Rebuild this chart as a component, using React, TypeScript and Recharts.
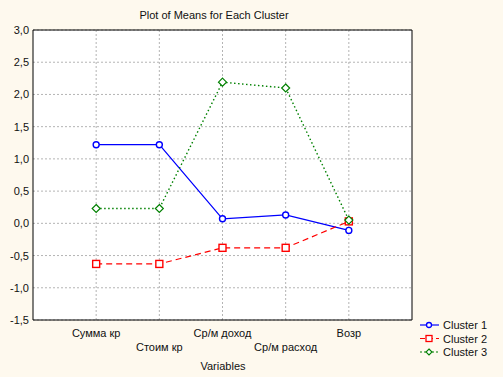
import { CartesianGrid, Line, LineChart, XAxis, YAxis } from 'recharts'

const categories = ['Сумма кр', 'Стоим кр', 'Ср/м доход', 'Ср/м расход', 'Возр']
const cluster1 = [1.22, 1.22, 0.07, 0.13, -0.11]
const cluster2 = [-0.63, -0.63, -0.38, -0.38, 0.03]
const cluster3 = [0.23, 0.23, 2.19, 2.1, 0.05]
const seriesNames = ['Cluster 1', 'Cluster 2', 'Cluster 3']
const yTicks = [-1.5, -1, -0.5, 0, 0.5, 1, 1.5, 2, 2.5, 3]

const data = categories.map((name, i) => ({
  x: i + 1,
  name,
  c1: cluster1[i],
  c2: cluster2[i],
  c3: cluster3[i],
}))

// minor tick positions along the frame
const xMinor = Array.from({ length: 25 }, (_, i) => i * 0.25)
const yMinor = Array.from({ length: 46 }, (_, i) => Math.round((-1.5 + i * 0.1) * 10) / 10)

const FONT = '"Liberation Sans", Arial, sans-serif'
const BLUE = '#0000ff'
const RED = '#ff0000'
const GREEN = '#008000'

const CircleDot = (p: any) => {
  if (p.cx == null || p.cy == null) return null
  return <circle cx={p.cx} cy={p.cy} r={3} fill="#fff" stroke={BLUE} strokeWidth={1.4} />
}
const SquareDot = (p: any) => {
  if (p.cx == null || p.cy == null) return null
  return (
    <rect x={p.cx - 3.5} y={p.cy - 3.5} width={7} height={7} fill="#fff" stroke={RED} strokeWidth={1.4} />
  )
}
const DiamondDot = (p: any) => {
  if (p.cx == null || p.cy == null) return null
  const { cx, cy } = p
  return (
    <path
      d={`M${cx},${cy - 4}L${cx + 4},${cy}L${cx},${cy + 4}L${cx - 4},${cy}Z`}
      fill="#fff"
      stroke={GREEN}
      strokeWidth={1.2}
    />
  )
}

const XTick = (p: any) => {
  const i = p.index ?? 0
  const y = i % 2 === 0 ? 337 : 350.5
  return (
    <text x={p.x} y={y} textAnchor="middle" fontSize={11} fontFamily={FONT} fill="#111">
      {categories[i]}
    </text>
  )
}

const YTick = (p: any) => (
  <text x={29} y={p.y + 4} textAnchor="end" fontSize={11} fontFamily={FONT} fill="#111">
    {Number(p.payload.value).toFixed(1).replace('.', ',')}
  </text>
)

const legendRows = [
  { name: seriesNames[0], color: BLUE, dash: undefined, mark: 'circle' },
  { name: seriesNames[1], color: RED, dash: '5 3', mark: 'square' },
  { name: seriesNames[2], color: GREEN, dash: '2 2', mark: 'diamond' },
]

export default function App() {
  return (
    <div
      style={{
        position: 'absolute',
        left: 0,
        top: 0,
        width: 503,
        height: 377,
        background: '#fef9ee',
      }}
    >
      <LineChart
        width={503}
        height={377}
        data={data}
        margin={{ top: 30, right: 91, bottom: 37, left: 8 }}
      >
        <CartesianGrid
          fill="#ffffff"
          stroke="#b4b4b4"
          strokeDasharray="2 2"
          verticalValues={[1, 2, 3, 4, 5]}
          horizontalValues={yTicks}
        />
        <XAxis
          dataKey="x"
          type="number"
          domain={[0, 6]}
          ticks={[1, 2, 3, 4, 5]}
          height={20}
          tickLine={false}
          axisLine={{ stroke: '#000' }}
          tick={<XTick />}
          interval={0}
        />
        <XAxis
          xAxisId="bm"
          dataKey="x"
          type="number"
          domain={[0, 6]}
          ticks={xMinor}
          mirror
          tick={false}
          tickSize={3}
          tickLine={{ stroke: '#000' }}
          axisLine={false}
          interval={0}
        />
        <XAxis
          xAxisId="top"
          orientation="top"
          dataKey="x"
          type="number"
          domain={[0, 6]}
          ticks={xMinor}
          mirror
          tick={false}
          tickSize={3}
          tickLine={{ stroke: '#000' }}
          axisLine={{ stroke: '#000' }}
          interval={0}
        />
        <YAxis
          type="number"
          domain={[-1.5, 3]}
          ticks={yTicks}
          width={25}
          tickLine={false}
          axisLine={{ stroke: '#000' }}
          tick={<YTick />}
          interval={0}
          allowDataOverflow
        />
        <YAxis
          yAxisId="lm"
          type="number"
          domain={[-1.5, 3]}
          ticks={yMinor}
          mirror
          tick={false}
          tickSize={3}
          tickLine={{ stroke: '#000' }}
          axisLine={false}
          interval={0}
          allowDataOverflow
        />
        <YAxis
          yAxisId="right"
          orientation="right"
          type="number"
          domain={[-1.5, 3]}
          ticks={yMinor}
          mirror
          tick={false}
          tickSize={3}
          tickLine={{ stroke: '#000' }}
          axisLine={{ stroke: '#000' }}
          interval={0}
          allowDataOverflow
        />
        <Line
          dataKey="c1"
          name={seriesNames[0]}
          type="linear"
          stroke={BLUE}
          strokeWidth={1.2}
          dot={<CircleDot />}
          activeDot={false}
          isAnimationActive={false}
        />
        <Line
          dataKey="c2"
          name={seriesNames[1]}
          type="linear"
          stroke={RED}
          strokeWidth={1.2}
          strokeDasharray="6 4"
          dot={<SquareDot />}
          activeDot={false}
          isAnimationActive={false}
        />
        <Line
          dataKey="c3"
          name={seriesNames[2]}
          type="linear"
          stroke={GREEN}
          strokeWidth={1.4}
          strokeDasharray="1.5 2.5"
          dot={<DiamondDot />}
          activeDot={false}
          isAnimationActive={false}
        />
      </LineChart>
      <svg
        width={503}
        height={377}
        style={{ position: 'absolute', left: 0, top: 0, pointerEvents: 'none' }}
      >
        <text x={214} y={19} textAnchor="middle" fontSize={11} fontFamily={FONT} fill="#111">
          Plot of Means for Each Cluster
        </text>
        <text x={223} y={370} textAnchor="middle" fontSize={11} fontFamily={FONT} fill="#111">
          Variables
        </text>
        {legendRows.map((r, i) => {
          const cy = 325 + i * 13.5
          return (
            <g key={r.name}>
              <line x1={420} x2={439} y1={cy} y2={cy} stroke={r.color} strokeWidth={1.2} strokeDasharray={r.dash} />
              {r.mark === 'circle' && <circle cx={429} cy={cy} r={2.5} fill="#fff" stroke={r.color} strokeWidth={1.3} />}
              {r.mark === 'square' && (
                <rect x={426} y={cy - 3} width={6} height={6} fill="#fff" stroke={r.color} strokeWidth={1.3} />
              )}
              {r.mark === 'diamond' && (
                <path
                  d={`M429,${cy - 3}L432,${cy}L429,${cy + 3}L426,${cy}Z`}
                  fill="#fff"
                  stroke={r.color}
                  strokeWidth={1.1}
                />
              )}
              <text x={443} y={cy + 4} fontSize={11} fontFamily={FONT} fill="#111">
                {r.name}
              </text>
            </g>
          )
        })}
      </svg>
    </div>
  )
}
